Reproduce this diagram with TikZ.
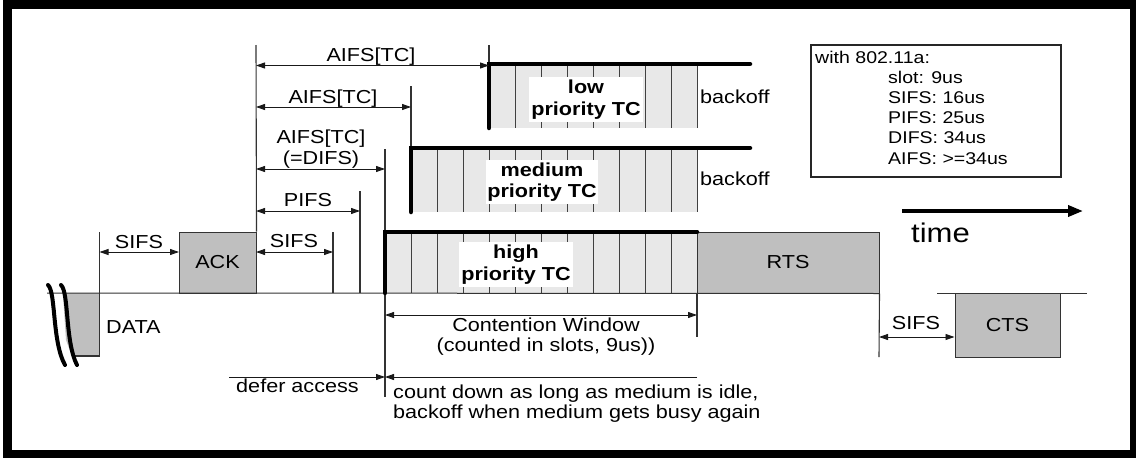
\documentclass[tikz,border=0pt]{standalone}
\usepackage{fontspec}
\setmainfont{Liberation Sans}[FakeStretch=1.15]
\usetikzlibrary{arrows.meta}
\newcommand\lblfont{\fontsize{18.8}{21.7}\selectfont}
\newcommand\infofont{\fontsize{17}{20}\selectfont}
\newcommand\timefont{\fontsize{27}{30}\selectfont}
\begin{document}
\begin{tikzpicture}[x=1pt,y=-1pt,
  >={Triangle[length=9pt,width=6pt]},
  guide/.style={draw=black!80, line width=1.1pt},
  dimline/.style={draw=black!90, line width=0.9pt},
  slot/.style={fill=black!9},
  slotln/.style={draw=black!75, line width=1pt},
  heavy/.style={draw=black, line width=4.5pt, line cap=round},
  pkt/.style={draw=black!80, fill=black!25, line width=1pt, inner sep=0pt, font=\lblfont},
  lbl/.style={inner sep=0pt, anchor=base, font=\lblfont},
  lblw/.style={inner sep=0pt, anchor=base west, font=\lblfont},
  prio/.style={fill=white, inner sep=0pt, align=center, font=\bfseries\lblfont},
  info/.style={inner sep=0pt, anchor=base west, font=\infofont}]
\useasboundingbox (0,0) rectangle (1136,458);
% outer frame
\draw[line width=8.5pt] (7.5,4.5) rectangle (1134.5,454.5);

% ---------- contention slots ----------
\fill[slot] (385,232) rectangle (697,293);
\fill[slot] (411,148) rectangle (697,212);
\fill[slot] (489,64) rectangle (697,128);
\foreach \k in {1,...,12} \draw[slotln] ({385+26*\k},232) -- ({385+26*\k},293);
\foreach \k in {2,...,12} \draw[slotln] ({385+26*\k},148) -- ({385+26*\k},212);
\foreach \k in {5,...,12} \draw[slotln] ({385+26*\k},64) -- ({385+26*\k},128);

\node[prio, minimum width=114pt, minimum height=45pt] (lowlbl) at (586,99.5) {low\\priority TC};
\node[prio, minimum width=112pt, minimum height=44pt] (medlbl) at (542,182) {medium\\priority TC};
\node[prio, minimum width=114pt, minimum height=45pt] (highlbl) at (516,264.5) {high\\priority TC};

% ---------- packets ----------
\node[pkt, minimum width=77pt, minimum height=61pt] (ack) at (217.5,262.5) {ACK};
\node[pkt, minimum width=182pt, minimum height=61pt] (rts) at (788,262.5) {RTS};
\node[pkt, minimum width=105pt, minimum height=64pt] (cts) at (1007.5,325) {CTS};

% DATA (broken packet)
\fill[black!25] (63,293) -- (99.5,293) -- (99.5,356) -- (72,356) -- (66,340) -- (64,310) -- cycle;
\coordinate (dbl) at (72,356);
\coordinate (dbr) at (99.5,356);
\draw[guide] (dbl) -- (dbr);
\node[lblw] (datalbl) at (106,333) {DATA};

% baseline of the medium
\coordinate (b0) at (47,293);
\coordinate (b1) at (937,293);
\coordinate (b2) at (1087,293);
\draw[guide, line width=1pt] (b0) -- (rts.south east);
\draw[guide, line width=1pt] (b1) -- (b2);

% break marks
\coordinate (bra1) at (48,285); \coordinate (bra2) at (65,365);
\coordinate (brb1) at (61,285); \coordinate (brb2) at (77,365);
\draw[line width=4pt, line cap=round] (bra1) .. controls (56,292) and (52,342) .. (bra2);
\draw[line width=4pt, line cap=round] (brb1) .. controls (69,292) and (65,342) .. (brb2);

% ---------- guide lines ----------
\coordinate (g1t) at (99.5,232);
\draw[guide] (g1t) -- (dbr);
\coordinate (g2t) at (256,45);
\draw[guide] (g2t) -- (ack.north east);
\coordinate (g3t) at (333,232); \coordinate (g3b) at (333,293);
\draw[guide] (g3t) -- (g3b);
\coordinate (g4t) at (360,191); \coordinate (g4b) at (360,293);
\draw[guide] (g4t) -- (g4b);
\coordinate (g5t) at (385,149); \coordinate (g5b) at (385,397);
\draw[guide] (g5t) -- (g5b);
\coordinate (g6t) at (411,86); \coordinate (g6b) at (411,148);
\draw[guide] (g6t) -- (g6b);
\coordinate (g7t) at (489,45); \coordinate (g7b) at (489,64);
\draw[guide] (g7t) -- (g7b);
\coordinate (g8t) at (697,293); \coordinate (g8b) at (697,337);
\draw[guide] (g8t) -- (g8b);
\coordinate (g9b) at (879,357);
\draw[guide] (rts.south east) -- (g9b);

% ---------- heavy outlines of the backoff windows ----------
\coordinate (lowtl) at (489,64); \coordinate (lowtr) at (750,64); \coordinate (lowbl) at (489,128);
\draw[heavy] (lowbl) -- (lowtl) -- (lowtr);
\coordinate (medtl) at (411,148); \coordinate (medtr) at (750,148); \coordinate (medbl) at (411,212);
\draw[heavy] (medbl) -- (medtl) -- (medtr);
\coordinate (hitl) at (385,232); \coordinate (hitr) at (697,232); \coordinate (hibl) at (385,293);
\draw[heavy] (hibl) -- (hitl) -- (hitr);

\node[lblw] (bo1) at (700,103) {backoff};
\node[lblw] (bo2) at (700,185) {backoff};

% ---------- interframe spaces ----------
\coordinate (s1a) at (99.5,252); \coordinate (s1b) at (179,252);
\draw[dimline,<->] (s1a) -- (s1b);
\node[lbl] (s1lbl) at (139,248) {SIFS};

\coordinate (s2a) at (256,252); \coordinate (s2b) at (333,252);
\draw[dimline,<->] (s2a) -- (s2b);
\node[lbl] (s2lbl) at (294,247) {SIFS};

\coordinate (pa) at (256,211); \coordinate (pb) at (360,211);
\draw[dimline,<->] (pa) -- (pb);
\node[lbl] (plbl) at (308,206) {PIFS};

\coordinate (da) at (256,169); \coordinate (db) at (385,169);
\draw[dimline,<->] (da) -- (db);
\node[lbl] (dlbl1) at (321,143) {AIFS[TC]};
\node[lbl] (dlbl2) at (321,164) {(=DIFS)};

\coordinate (ma) at (256,107); \coordinate (mb) at (411,107);
\draw[dimline,<->] (ma) -- (mb);
\node[lbl] (mlbl) at (333,103) {AIFS[TC]};

\coordinate (la) at (256,65.5); \coordinate (lb) at (489,65.5);
\draw[dimline,<->] (la) -- (lb);
\node[lbl] (llbl) at (371,61.5) {AIFS[TC]};

% contention window
\coordinate (cwa) at (385,315); \coordinate (cwb) at (697,315);
\draw[dimline,<->] (cwa) -- (cwb);
\node[lbl] (cw1) at (546,331.5) {Contention Window};
\node[lbl] (cw2) at (546,351.5) {(counted in slots, 9us))};

% defer / count down
\coordinate (dfa) at (229,377); \coordinate (dfb) at (385,377); \coordinate (cdb) at (697,377);
\draw[dimline,->] (dfa) -- (dfb);
\draw[dimline,->] (cdb) -- (dfb);
\node[lbl] (deflbl) at (297.5,392.5) {defer access};
\node[lblw] (cd1) at (393,398) {count down as long as medium is idle,};
\node[lblw] (cd2) at (393,418) {backoff when medium gets busy again};

% SIFS before CTS
\coordinate (s3a) at (879,337);
\draw[dimline,<->] (s3a) -- (cts.west |- s3a);
\node[lbl] (s3lbl) at (916,329) {SIFS};

% time arrow
\coordinate (ta) at (902,211); \coordinate (tb) at (1083,211);
\draw[line width=3.5pt, -{Triangle[length=15pt,width=11pt]}] (ta) -- (tb);
\node[inner sep=0pt, anchor=base west, font=\timefont] (timelbl) at (911,242) {time};

% info box
\node[draw=black!85, line width=1.2pt, minimum width=250pt, minimum height=132pt, inner sep=0pt] (infobox) at (936,111) {};
\node[info] (i0) at (815,63.3) {with 802.11a:};
\node[info] (i1) at (888,83.3) {slot: 9us};
\node[info] (i2) at (888,103.3) {SIFS: 16us};
\node[info] (i3) at (888,123.3) {PIFS: 25us};
\node[info] (i4) at (888,143.3) {DIFS: 34us};
\node[info] (i5) at (888,164.3) {AIFS: >=34us};
\end{tikzpicture}
\end{document}
